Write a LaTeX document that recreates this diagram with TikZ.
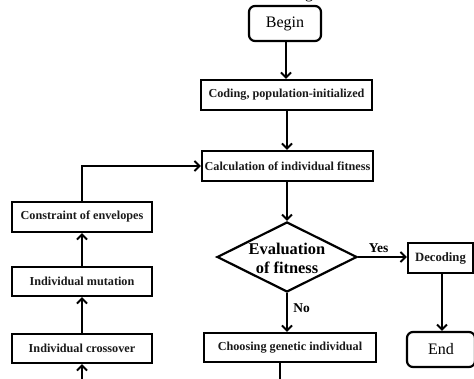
\documentclass[tikz,border=0pt]{standalone}
\usepackage{fontspec}
\setmainfont{Liberation Serif}
\usetikzlibrary{shapes.geometric,arrows.meta}
\begin{document}
\begin{tikzpicture}[x=1pt,y=1pt,
  box/.style={draw, line width=2.4pt, inner sep=0pt, font=\bfseries\fontsize{12.2}{14}\selectfont, text=black!90},
  term/.style={draw, line width=2.2pt, rounded corners=6pt, inner sep=0pt, font=\fontsize{16}{19}\selectfont},
  decision/.style={draw, diamond, line width=2.2pt, inner sep=0pt},
  arr/.style={line width=1.9pt, -{Straight Barb[length=5pt,width=10pt]}},
  lbl/.style={font=\bfseries\fontsize{13.5}{16}\selectfont}]
\useasboundingbox (0,0) rectangle (474,378);
\clip (0,0) rectangle (474,378);
% fragment of text cut off above
\node[anchor=base, font=\fontsize{16}{19}\selectfont, inner sep=0pt] (frag) at (309,379) {g};
% nodes (y = 378 - pixel row)
\node[term, minimum width=72pt, minimum height=35pt] (begin) at (285,354.5) {Begin};
\node[box, minimum width=171pt, minimum height=30pt] (coding) at (286.5,283) {Coding, population-initialized};
\node[box, minimum width=171pt, minimum height=30pt] (calc) at (287.5,212) {Calculation of individual fitness};
\node[decision, minimum width=140pt, minimum height=70pt] (eval) at (287,121) {};
\node[align=center, font=\bfseries\fontsize{16.4}{19}\selectfont, inner sep=0pt] (evaltext) at (287,119.5) {Evaluation\\of fitness};
\node[box, minimum width=65pt, minimum height=30pt, font=\bfseries\fontsize{12.7}{14}\selectfont] (decoding) at (440.5,120) {Decoding};
\node[term, minimum width=68pt, minimum height=35pt] (end) at (441,28.5) {End};
\node[box, minimum width=172pt, minimum height=29pt] (choose) at (290,30.5) {Choosing genetic individual};
\node[box, minimum width=140pt, minimum height=30pt] (constr) at (82,161) {Constraint of envelopes};
\node[box, minimum width=140pt, minimum height=29pt] (mut) at (82,96.5) {Individual mutation};
\node[box, minimum width=140pt, minimum height=29pt] (cross) at (82,29.5) {Individual crossover};
% connectors
\draw[arr] (begin.south -| 286,0) -- (coding.north -| 286,0);
\draw[arr] (coding.south -| 287,0) -- (calc.north -| 287,0);
\draw[arr] (calc.south -| eval.north) -- (eval.north);
\draw[arr] (eval.east) -- node[lbl, above, pos=0.42] {Yes} (decoding.west |- eval.east);
\draw[arr] (eval.south) -- node[lbl, right, pos=0.4, xshift=2pt] {No} (choose.north -| eval.south);
\draw[arr] (decoding.south -| 442,0) -- (end.north -| 442,0);
\draw[arr] (constr.north) |- (calc.west);
\draw[arr] (mut.north) -- (constr.south);
\draw[arr] (cross.north) -- (mut.south);
\coordinate (bend) at (280,-1.5);
\draw[arr] (choose.south -| bend) -- (bend) -| (cross.south);
\end{tikzpicture}
\end{document}
